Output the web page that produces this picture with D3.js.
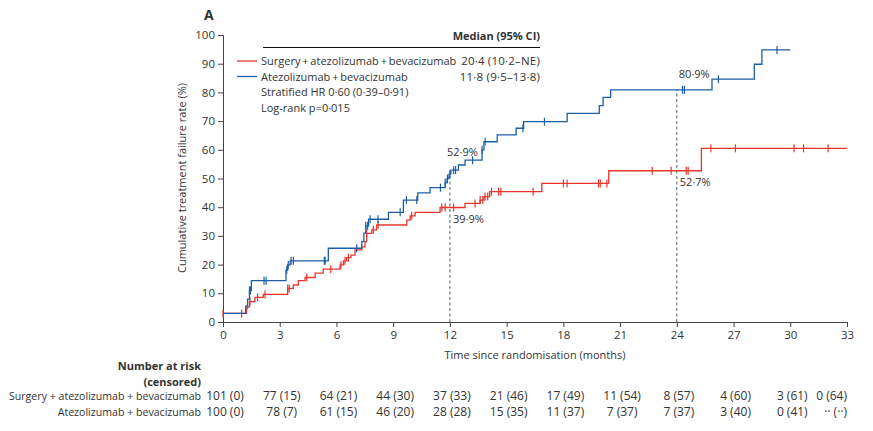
<!DOCTYPE html>
<html>
<head>
<meta charset="utf-8">
<script src="https://cdn.jsdelivr.net/npm/d3@7"></script>
<style>
  body { margin: 0; background: #fff; }
  text { font-family: "Open Sans", "Noto Sans", sans-serif; fill: #333; }
</style>
</head>
<body>
<div id="chart"></div>
<script>
// x ticks (months) and y ticks (%)
var months = [0, 3, 6, 9, 12, 15, 18, 21, 24, 27, 30, 33];
var yTicks = [0, 10, 20, 30, 40, 50, 60, 70, 80, 90, 100];

// step points: [month, cumulative failure %]
var surgerySteps = [[0,3.0],[1.25,4.8],[1.3,5.3],[1.4,7.1],[1.69,8.6],[2.13,9.6],[3.42,11.7],[3.72,12.9],
  [3.98,14.4],[4.34,15.5],[4.87,17.0],[5.3,18.4],[6.19,19.9],[6.37,21.3],[6.54,22.4],[6.77,23.3],
  [6.98,25.1],[7.34,26.2],[7.51,28.0],[7.6,30.9],[7.87,32.1],[8.13,33.8],[9.72,35.5],[9.9,37.0],
  [10.16,38.2],[11.48,39.9],[12.8,41.3],[13.6,42.5],[13.8,43.7],[14.1,45.4],[16.86,48.3],[20.4,52.7],
  [25.3,60.5],[33,60.5]];
var atezoSteps = [[0,3.0],[1.2,5.5],[1.3,8],[1.4,11],[1.5,14.4],[3.33,18.1],[3.42,19.9],[3.55,21.3],
  [5.57,25.7],[7.34,28],[7.45,31],[7.55,33.5],[7.7,35.8],[8.75,38.2],[9.54,42.5],[10.3,45],
  [10.95,46.8],[11.75,48.5],[11.85,50],[11.95,51.5],[12.05,52.9],[12.45,54.7],[12.8,56.4],[13.7,60],
  [13.8,62.8],[14.5,65.2],[15.5,67.5],[15.9,69.8],[18.2,72.7],[19.9,75.4],[20.1,78.3],[20.5,80.9],
  [25.86,84.6],[28.1,89.8],[28.5,94.8],[30.0,94.8]];

// censoring times (months)
var surgeryCensor = [0,0.99,1.43,1.83,2.22,3.42,3.5,4.43,5.7,6.24,6.45,6.63,7.6,7.95,8.2,9.98,11.57,11.75,
  12.2,13.33,13.6,13.74,13.86,14.0,14.2,14.57,14.69,16.4,18.0,18.2,19.86,19.95,20.3,22.7,23.7,24.5,24.6,
  25.8,27.1,30.2,30.7,32.0];
var atezoCensor = [1.4,1.45,2.17,2.28,3.37,3.45,3.6,3.72,5.36,5.4,7.07,7.55,7.65,7.78,8.2,9.37,9.7,10.25,
  11.5,11.75,11.87,12.0,12.2,12.3,13.2,13.7,13.86,15.86,17.0,24.3,24.4,26.2,29.3];

// landmark annotations
var landmarks = [
  {t: 12, atezo: 52.9, surgery: 39.9},
  {t: 24, atezo: 80.9, surgery: 52.7}
];

var legendRows = [
  {name: "Surgery + atezolizumab + bevacizumab", median: "20·4 (10·2–NE)", color: "#e8362c"},
  {name: "Atezolizumab + bevacizumab", median: "11·8 (9·5–13·8)", color: "#1c5ea8"}
];
var legendNotes = ["Stratified HR 0·60 (0·39–0·91)", "Log-rank p=0·015"];

// number at risk (censored)
var riskSurgery = ["101 (0)","77 (15)","64 (21)","44 (30)","37 (33)","21 (46)","17 (49)","11 (54)","8 (57)","4 (60)","3 (61)","0 (64)"];
var riskAtezo = ["100 (0)","78 (7)","61 (15)","46 (20)","28 (28)","15 (35)","11 (37)","7 (37)","7 (37)","3 (40)","0 (41)","·· (··)"];

var W = 873, H = 431;
var svg = d3.select("#chart").append("svg").attr("width", W).attr("height", H);

var x = d3.scaleLinear().domain([0, 33]).range([223, 847]);
var y = d3.scaleLinear().domain([0, 100]).range([322, 35]);

// axes
var yAxis = svg.append("g").attr("transform", "translate(223,0)")
  .call(d3.axisLeft(y).tickValues(yTicks).tickSize(5).tickPadding(3));
var xAxis = svg.append("g").attr("transform", "translate(0,322)")
  .call(d3.axisBottom(x).tickValues(months).tickSize(5).tickPadding(4));
[yAxis, xAxis].forEach(function(a) {
  a.select(".domain").attr("stroke", "#444");
  a.selectAll(".tick line").attr("stroke", "#444");
  a.selectAll("text").attr("font-size", 11.5).attr("fill", "#333")
    .style("font-family", "'Open Sans', sans-serif");
});

svg.append("text").attr("transform", "translate(186,178) rotate(-90)")
  .attr("text-anchor", "middle").attr("font-size", 11).text("Cumulative treatment failure rate (%)");
svg.append("text").attr("x", 535).attr("y", 359).attr("text-anchor", "middle")
  .attr("font-size", 11).text("Time since randomisation (months)");
svg.append("text").attr("x", 204).attr("y", 20).attr("font-size", 14).attr("font-weight", "bold").text("A");

// step function lookup for censor marks
function stepValue(steps, t) {
  var v = steps[0][1];
  steps.forEach(function(s) { if (s[0] <= t) v = s[1]; });
  return v;
}

var line = d3.line().curve(d3.curveStepAfter)
  .x(function(d) { return x(d[0]); })
  .y(function(d) { return y(d[1]); });

// dashed landmark lines
var lm = svg.append("g");
lm.selectAll("line").data(landmarks).enter().append("line")
  .attr("x1", function(d) { return x(d.t); }).attr("x2", function(d) { return x(d.t); })
  .attr("y1", y(0)).attr("y2", function(d) { return y(d.atezo); })
  .attr("stroke", "#4f6272").attr("stroke-width", 1).attr("stroke-dasharray", "3,2.5");

var groups = [
  {steps: surgerySteps, censor: surgeryCensor, color: legendRows[0].color},
  {steps: atezoSteps, censor: atezoCensor, color: legendRows[1].color}
];
groups.forEach(function(g) {
  svg.append("path").attr("d", line(g.steps)).attr("fill", "none")
    .attr("stroke", g.color).attr("stroke-width", 1.3);
  svg.append("g").selectAll("line").data(g.censor).enter().append("line")
    .attr("x1", function(d) { return x(d); }).attr("x2", function(d) { return x(d); })
    .attr("y1", function(d) { return y(stepValue(g.steps, d)) - 4; })
    .attr("y2", function(d) { return y(stepValue(g.steps, d)) + 4; })
    .attr("stroke", g.color).attr("stroke-width", 1.2);
});

// landmark labels: blue value above, red value below
lm.selectAll(".lbA").data(landmarks).enter().append("text")
  .attr("x", function(d, i) { return i === 0 ? x(d.t) - 3 : x(d.t) + 2; })
  .attr("y", function(d, i) { return y(d.atezo) - (i === 0 ? 14 : 12); })
  .attr("font-size", 11)
  .text(function(d) { return String(d.atezo).replace(".", "·") + "%"; });
lm.selectAll(".lbS").data(landmarks).enter().append("text")
  .attr("x", function(d) { return x(d.t) + 3; })
  .attr("y", function(d) { return y(d.surgery) + 15.5; })
  .attr("font-size", 11)
  .text(function(d) { return String(d.surgery).replace(".", "·") + "%"; });

// legend
var lg = svg.append("g");
lg.append("text").attr("x", 540).attr("y", 40).attr("text-anchor", "end")
  .attr("font-size", 11).attr("font-weight", "bold").text("Median (95% CI)");
lg.append("line").attr("x1", 263).attr("x2", 540).attr("y1", 47.5).attr("y2", 47.5)
  .attr("stroke", "#111").attr("stroke-width", 1);
legendRows.forEach(function(r, i) {
  var yy = 61 + i * 15.5;
  lg.append("line").attr("x1", 237).attr("x2", 257).attr("y1", yy).attr("y2", yy)
    .attr("stroke", r.color).attr("stroke-width", 1.3);
  lg.append("text").attr("x", 261).attr("y", yy + 4).attr("font-size", 11)
    .text(r.name.split(" + ").join("\u2009+\u2009"));
  lg.append("text").attr("x", 540).attr("y", yy + 4).attr("text-anchor", "end")
    .attr("font-size", 11.5).attr("letter-spacing", 0.2).text(r.median);
});
legendNotes.forEach(function(n, i) {
  lg.append("text").attr("x", 261).attr("y", 96 + i * 16).attr("font-size", 11).text(n);
});

// number at risk table
var rt = svg.append("g");
rt.append("text").attr("x", 201).attr("y", 370).attr("text-anchor", "end")
  .attr("font-size", 11).attr("font-weight", "bold").text("Number at risk");
rt.append("text").attr("x", 201).attr("y", 386).attr("text-anchor", "end")
  .attr("font-size", 11).attr("font-weight", "bold").text("(censored)");
[{label: legendRows[0].name, vals: riskSurgery, yy: 400},
 {label: legendRows[1].name, vals: riskAtezo, yy: 416}].forEach(function(r) {
  rt.append("text").attr("x", 201).attr("y", r.yy).attr("text-anchor", "end")
    .attr("font-size", 10.6).text(r.label);
  rt.selectAll(null).data(r.vals).enter().append("text")
    .attr("x", function(d, i) { return i === months.length - 1 ? x(months[i]) : x(months[i]) + 2; })
    .attr("y", r.yy)
    .attr("text-anchor", function(d, i) { return i === months.length - 1 ? "end" : "middle"; })
    .attr("font-size", 12).text(function(d) { return d; });
});
</script>
</body>
</html>
